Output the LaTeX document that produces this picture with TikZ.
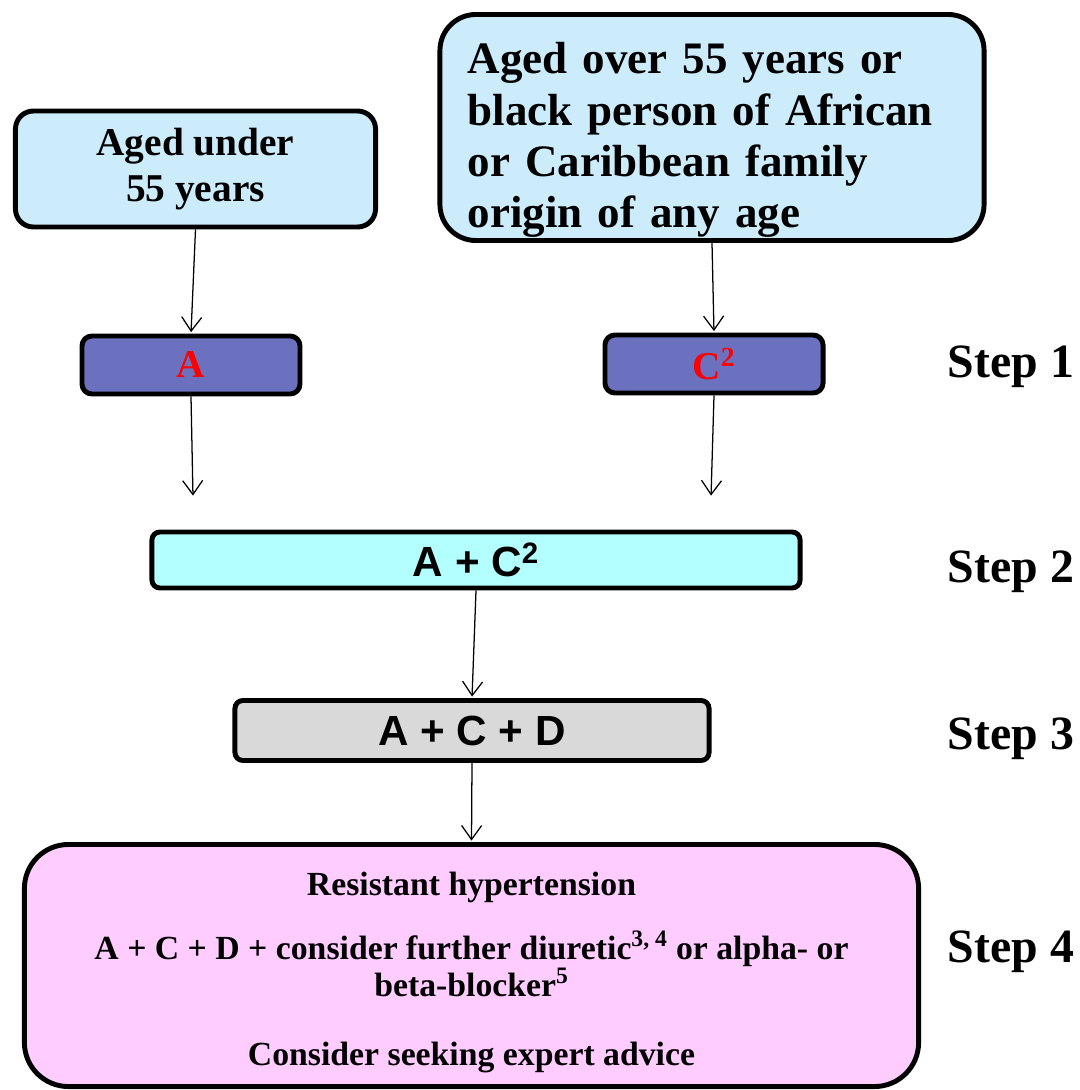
\documentclass[tikz,border=0pt]{standalone}
\usepackage{fontspec}
\setmainfont{Liberation Serif}
\newfontfamily\arialfont{Liberation Sans}
\usetikzlibrary{arrows.meta,positioning}

\definecolor{agefill}{RGB}{204,236,252}
\definecolor{drugfill}{RGB}{107,112,191}
\definecolor{twofill}{RGB}{179,255,255}
\definecolor{threefill}{RGB}{217,217,217}
\definecolor{fourfill}{RGB}{255,204,255}

\begin{document}
\begin{tikzpicture}[x=0.025cm,y=-0.025cm]
			\tikzstyle{box}=[draw,line width=3.5pt,inner sep=0pt,align=center,font=\bfseries]
			\tikzstyle{drug}=[box,fill=drugfill,text=red,rounded corners=0.25cm,minimum width=5.45cm,minimum height=1.45cm,font=\bfseries\fontsize{28}{30}\selectfont]
			\tikzstyle{combo}=[box,rounded corners=0.2cm,font=\arialfont\bfseries\fontsize{30}{32}\selectfont]
			\tikzstyle{steplabel}=[anchor=west,font=\bfseries\fontsize{34}{40}\selectfont]
			\tikzstyle{every edge}=[draw,line width=0.9pt,shorten >=1pt,-{Straight Barb[length=3.5mm,width=5mm]}]

			\useasboundingbox (0,0) rectangle (1079,1090);

			\node (under) at (195.5,169) [box,fill=agefill,rounded corners=0.45cm,minimum width=9cm,minimum height=2.9cm,font=\bfseries\fontsize{28}{33}\selectfont] {Aged under\\55 years};
			\node (over) at (712,127.5) [box,fill=agefill,rounded corners=0.9cm,minimum width=13.6cm,minimum height=5.65cm,align=left,text width=12.2cm,font=\bfseries\fontsize{32}{36.5}\selectfont] {\rule{0pt}{1.42cm}Aged over 55 years or\\black person of African\\or Caribbean family\\origin of any age};

			\node (drugA) at (191,365) [drug] {A};
			\node (drugC) at (714,364) [drug] {C\textsuperscript{2}};

			\node (two) at (476,560) [combo,fill=twofill,minimum width=16.2cm,minimum height=1.4cm] {A + C\textsuperscript{2}};
			\node (three) at (472,730.5) [combo,fill=threefill,minimum width=11.85cm,minimum height=1.5cm] {A + C + D};
			\node (four) at (471.5,965.5) [box,fill=fourfill,rounded corners=1.1cm,minimum width=22.35cm,minimum height=6.05cm,font=\bfseries\fontsize{24}{26.5}\selectfont] {\rule{0pt}{0.95cm}Resistant hypertension\\[0.65cm]A + C + D + consider further diuretic\textsuperscript{3, 4} or alpha- or\\beta-blocker\textsuperscript{5}\\[0.8cm]Consider seeking expert advice};

			\node (s1) at (943,367) [steplabel] {Step 1};
			\node (s2) at (943,572) [steplabel] {Step 2};
			\node (s3) at (943,739) [steplabel] {Step 3};
			\node (s4) at (943,952) [steplabel] {Step 4};

			\coordinate (aend) at (193,497);
			\coordinate (cend) at (711,497);

			\path (under.south) edge (drugA.north);
			\path (over.south) edge (drugC.north);
			\path (drugA.south) edge (aend);
			\path (drugC.south) edge (cend);
			\path (two.south) edge (three.north);
			\path (three.south) edge (four.north);
\end{tikzpicture}
\end{document}
